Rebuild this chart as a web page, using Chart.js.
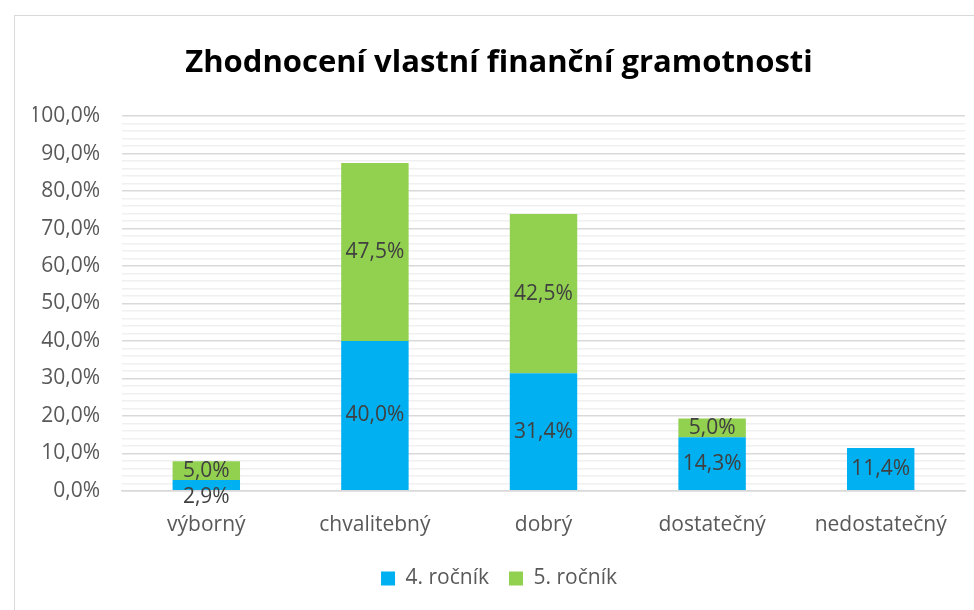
<!DOCTYPE html>
<html>
<head>
<meta charset="utf-8">
<script src="https://cdn.jsdelivr.net/npm/chart.js@4.4.1/dist/chart.umd.min.js"></script>
<style>
  html, body { margin: 0; padding: 0; background: #fff; overflow: hidden; }
  #frame { position: absolute; left: 14px; top: 15px; width: 1000px; height: 700px; border: 1px solid #d9d9d9; }
  #wrap { position: absolute; left: 0; top: 0; width: 974px; height: 610px; }
</style>
</head>
<body>
<div id="frame"></div>
<div id="wrap"><canvas id="chart"></canvas></div>
<script>
// data
const categories = ["výborný", "chvalitebný", "dobrý", "dostatečný", "nedostatečný"];
const rocnik4 = [2.9, 40.0, 31.4, 14.3, 11.4];
const rocnik5 = [5.0, 47.5, 42.5, 5.0, 0];
const seriesNames = ["4. ročník", "5. ročník"];

const FONT = "'Open Sans', 'DejaVu Sans', sans-serif";
const fmt = v => v.toFixed(1).replace(".", ",") + "%";

// popisky hodnot uprostřed sloupců
const barLabels = {
    id: "barLabels",
    afterDatasetsDraw(chart) {
        const ctx = chart.ctx;
        ctx.save();
        ctx.font = "21px " + FONT;
        ctx.fillStyle = "#404040";
        ctx.textAlign = "center";
        ctx.textBaseline = "middle";
        const n = chart.data.labels.length;
        for (let i = 0; i < n; i++) {
            let upperY = null;
            for (let d = chart.data.datasets.length - 1; d >= 0; d--) {
                const v = chart.data.datasets[d].data[i];
                if (!v) continue;
                const bar = chart.getDatasetMeta(d).data[i];
                let y = (bar.y + bar.base) / 2;
                if (upperY !== null && y - upperY < 22) y = upperY + 26;
                ctx.fillText(fmt(v), bar.x, y);
                upperY = y;
            }
        }
        ctx.restore();
    }
};

new Chart(document.getElementById("chart"), {
    type: "bar",
    data: {
        labels: categories,
        datasets: [
            { label: seriesNames[0], data: rocnik4, backgroundColor: "#00b0f0" },
            { label: seriesNames[1], data: rocnik5, backgroundColor: "#92d050" }
        ]
    },
    options: {
        responsive: true,
        maintainAspectRatio: false,
        animation: false,
        layout: { padding: { left: 33, right: 9, top: 45, bottom: 11 } },
        datasets: { bar: { categoryPercentage: 1, barPercentage: 0.4 } },
        plugins: {
            title: {
                display: true,
                text: "Zhodnocení vlastní finanční gramotnosti",
                color: "#000",
                font: { family: FONT, size: 31, weight: "bold" },
                padding: { top: 0, bottom: 34 }
            },
            legend: {
                position: "bottom",
                labels: {
                    color: "#595959",
                    font: { family: FONT, size: 21 },
                    boxWidth: 14,
                    boxHeight: 14,
                    padding: 20
                }
            },
            tooltip: { enabled: false }
        },
        scales: {
            x: {
                stacked: true,
                afterFit: s => { s.height -= 12; },
                grid: { display: false, drawTicks: false },
                border: { color: "#d9d9d9", width: 1.5 },
                ticks: { color: "#595959", font: { family: FONT, size: 21 }, padding: 22 }
            },
            y: {
                stacked: true,
                min: 0,
                max: 100,
                border: { display: false },
                afterFit: s => { s.width = 89; },
                grid: {
                    drawTicks: false,
                    color: c => (c.tick && c.tick.value % 10 === 0) ? "#d9d9d9" : "#f0f0f0",
                    lineWidth: 1.5
                },
                ticks: {
                    stepSize: 2,
                    autoSkip: false,
                    padding: 22,
                    color: "#595959",
                    font: { family: FONT, size: 21 },
                    callback: v => v % 10 === 0 ? fmt(v) : ""
                }
            }
        }
    },
    plugins: [barLabels]
});
</script>
</body>
</html>
